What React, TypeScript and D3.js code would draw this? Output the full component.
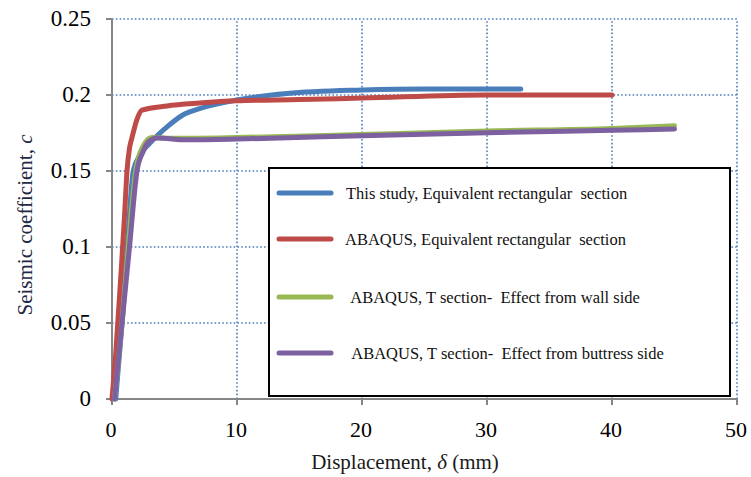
import React from "react";
import * as d3 from "d3";

const W = 751;
const H = 477;

const xTicks = [0, 10, 20, 30, 40, 50];
const yTicks = [0, 0.05, 0.1, 0.15, 0.2, 0.25];
const yTickLabels = ["0", "0.05", "0.1", "0.15", "0.2", "0.25"];

const blueX = [0.3, 0.5, 0.9, 1.3, 1.7, 2.2, 3.0, 4.4, 5.7, 7, 10, 14, 20, 25, 32.7];
const blueY = [0, 0.02, 0.06, 0.11, 0.15, 0.16, 0.168, 0.179, 0.187, 0.191, 0.1967, 0.201, 0.2033, 0.204, 0.204];

const redX = [0, 0.3, 0.7, 1.0, 1.2, 1.4, 1.6, 2.0, 2.4, 4.4, 7, 10, 15, 20, 30, 40];
const redY = [0, 0.03, 0.08, 0.12, 0.15, 0.165, 0.172, 0.184, 0.19, 0.1928, 0.1947, 0.1962, 0.197, 0.198, 0.2, 0.2];

const greenX = [0.2, 0.8, 1.3, 1.9, 2.6, 3.2, 5, 10, 20, 30, 40, 45];
const greenY = [0, 0.05, 0.1, 0.15, 0.168, 0.172, 0.1715, 0.172, 0.174, 0.1763, 0.178, 0.1798];

const purpleX = [0.2, 0.8, 1.4, 2.0, 2.5, 2.9, 3.6, 6, 10, 13.4, 20, 30, 40, 45];
const purpleY = [0, 0.05, 0.1, 0.15, 0.163, 0.169, 0.1717, 0.1705, 0.171, 0.1717, 0.1732, 0.1752, 0.1768, 0.1776];

const seriesNames = [
  "This study, Equivalent rectangular  section",
  "ABAQUS, Equivalent rectangular  section",
  " ABAQUS, T section-  Effect from wall side",
  " ABAQUS, T section-  Effect from buttress side",
];
const seriesColors = ["#4a7ebb", "#be4b48", "#98b954", "#7d60a0"];

export default function App() {
  const x = d3.scaleLinear().domain([0, 50]).range([112, 737]);
  const y = d3.scaleLinear().domain([0, 0.25]).range([399, 19]);
  const line = d3
    .line<[number, number]>()
    .x((d) => x(d[0]))
    .y((d) => y(d[1]))
    .curve(d3.curveMonotoneX);

  const series = [
    { xs: blueX, ys: blueY },
    { xs: redX, ys: redY },
    { xs: greenX, ys: greenY },
    { xs: purpleX, ys: purpleY },
  ];

  const legendYs = [193, 239, 297, 353];
  const legendTextX = [346, 345, 347, 348];

  return (
    <svg
      width={W}
      height={H}
      style={{ position: "absolute", left: 0, top: 0, background: "#fff" }}
      fontFamily="'Liberation Serif', 'Times New Roman', serif"
    >
      <rect x={0} y={0} width={W} height={H} fill="#fff" />
      {/* gridlines */}
      {xTicks.slice(1).map((t) => (
        <line
          key={"gx" + t}
          x1={x(t)}
          x2={x(t)}
          y1={y(0)}
          y2={y(0.25)}
          stroke="#4a7ebb"
          strokeWidth={1.6}
          strokeDasharray="1.6,2.2"
        />
      ))}
      {yTicks.slice(1).map((t) => (
        <line
          key={"gy" + t}
          x1={x(0)}
          x2={x(50)}
          y1={y(t)}
          y2={y(t)}
          stroke="#4a7ebb"
          strokeWidth={1.6}
          strokeDasharray="1.6,2.2"
        />
      ))}
      {/* axes */}
      <line x1={x(0)} x2={x(0)} y1={y(0.25)} y2={y(0) + 1} stroke="#868686" strokeWidth={2} />
      <line x1={x(0) - 1} x2={x(50) + 1} y1={y(0)} y2={y(0)} stroke="#868686" strokeWidth={2} />
      {yTicks.map((t) => (
        <line key={"ty" + t} x1={x(0) - 6} x2={x(0)} y1={y(t)} y2={y(t)} stroke="#868686" strokeWidth={2} />
      ))}
      {xTicks.map((t) => (
        <line key={"tx" + t} x1={x(t)} x2={x(t)} y1={y(0)} y2={y(0) + 6} stroke="#868686" strokeWidth={2} />
      ))}
      {yTicks.map((t, i) => (
        <text key={"ly" + t} x={x(0) - 21} y={y(t) + 7} textAnchor="end" fontSize={23} fill="#000">
          {yTickLabels[i]}
        </text>
      ))}
      {xTicks.map((t) => (
        <text key={"lx" + t} x={x(t) - 1} y={y(0) + 38} textAnchor="middle" fontSize={22} fill="#000">
          {t}
        </text>
      ))}
      {/* axis titles */}
      <text x={405} y={469} textAnchor="middle" fontSize={21} fill="#1a1a1a">
        Displacement, <tspan fontStyle="italic">δ</tspan> (mm)
      </text>
      <text
        transform={`translate(32, 225) rotate(-90)`}
        textAnchor="middle"
        fontSize={21}
        fill="#1f2a44"
      >
        Seismic coefficient, <tspan fontStyle="italic">c</tspan>
      </text>
      {/* series */}
      {series.map((s, i) => (
        <path
          key={"s" + i}
          d={line(s.xs.map((v, j) => [v, s.ys[j]] as [number, number])) || ""}
          fill="none"
          stroke={seriesColors[i]}
          strokeWidth={5}
          strokeLinecap="round"
          strokeLinejoin="round"
        />
      ))}
      {/* legend */}
      <rect x={269} y={168} width={461} height={228} fill="#fff" stroke="#000" strokeWidth={2} />
      {seriesNames.map((n, i) => (
        <g key={"lg" + i}>
          <line
            x1={279}
            x2={331}
            y1={legendYs[i]}
            y2={legendYs[i]}
            stroke={seriesColors[i]}
            strokeWidth={5}
            strokeLinecap="round"
          />
          <text
            x={legendTextX[i]}
            y={legendYs[i] + 6}
            fontSize={16.5}
            fill="#111"
            style={{ whiteSpace: "pre" }}
          >
            {n}
          </text>
        </g>
      ))}
    </svg>
  );
}
